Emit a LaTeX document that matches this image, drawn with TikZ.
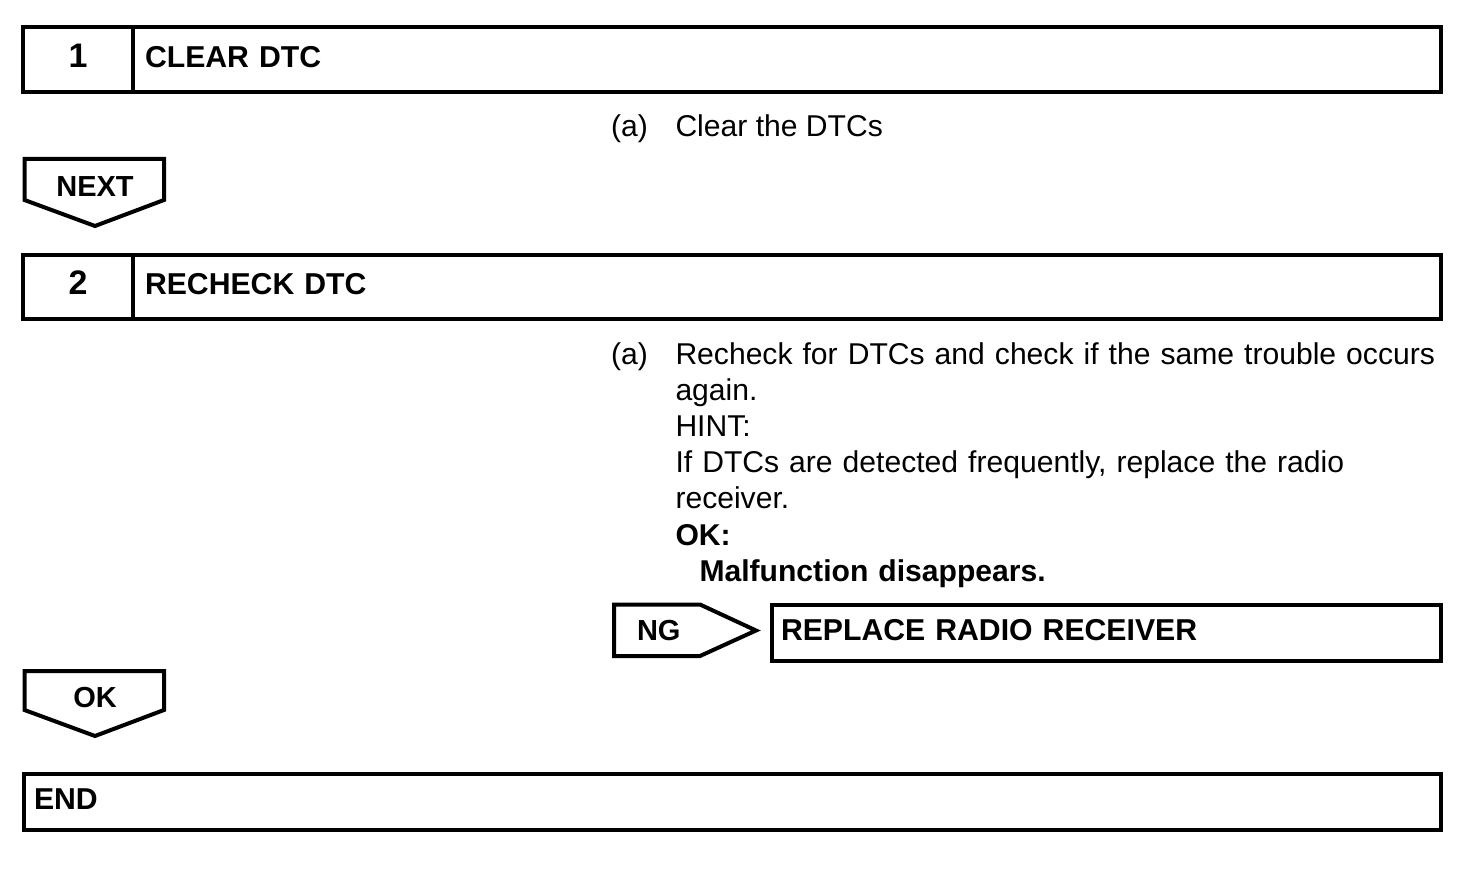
\documentclass[tikz,border=0pt]{standalone}
\usepackage{fontspec}
\setmainfont{Liberation Sans}
\usetikzlibrary{positioning}

\begin{document}
\begin{tikzpicture}[x=1pt, y=-1pt, line width=4pt,
        every node/.style={inner sep=0pt, outer sep=0pt, font=\fontsize{30.1}{36.2}\selectfont},
        stepnum/.style={draw, minimum width=110pt, minimum height=65.5pt, text height=22pt, text depth=7pt, font=\fontsize{34}{36}\selectfont\bfseries},
        steptitle/.style={draw, minimum height=65.5pt, text height=22pt, text depth=7pt, align=left, inner xsep=12pt, font=\fontsize{30.2}{36}\selectfont\bfseries},
        arrowlabel/.style={font=\fontsize{29}{36}\selectfont\bfseries}]
    \useasboundingbox (0,0) rectangle (1472,874);

    \node[stepnum, anchor=north west] (num1) at (23,27) {1};
    \node[steptitle, text width=1284pt, right=0pt of num1] (title1) {CLEAR DTC};
    \node[anchor=base west] (a1) at (611,136.5) {(a)};
    \node[anchor=base west] (clear) at (675.5,136.5) {Clear the DTCs};

    \draw (24.5,159) -- (164,159) -- (164,200) -- (95,226) -- (24.5,200) -- cycle;
    \node[arrowlabel, anchor=base] (next) at (95,197) {NEXT};

    \node[stepnum, anchor=north west, minimum height=64.5pt] (num2) at (23,255) {2};
    \node[steptitle, minimum height=64.5pt, text width=1284pt, right=0pt of num2] (title2) {RECHECK DTC};
    \node[anchor=base west] (a2) at (611,364) {(a)};
    \node[anchor=base west, text width=790pt, align=left] (recheck) at (675.5,364)
        {Recheck for DTCs and check if the same trouble occurs\\again.\\HINT:\\If DTCs are detected frequently, replace the radio\\receiver.\\\textbf{OK:}\\\hspace*{24pt}\textbf{Malfunction disappears.}};

    \draw (614,604.5) -- (700,604.5) -- (756,630.5) -- (700,656) -- (614,656) -- cycle;
    \node[arrowlabel, anchor=base west] (ng) at (637,640) {NG};
    \node[steptitle, anchor=north west, minimum height=56.5pt, inner xsep=9pt, text width=651pt] (replace) at (772,604.5) {REPLACE RADIO RECEIVER};

    \draw (24.5,671) -- (164,671) -- (164,710) -- (95,736) -- (24.5,710) -- cycle;
    \node[arrowlabel, anchor=base] (ok) at (95,707) {OK};

    \node[steptitle, anchor=north west, minimum height=56.5pt, inner xsep=10pt, text width=1397pt] (finish) at (24,773.5) {END};
\end{tikzpicture}
\end{document}
